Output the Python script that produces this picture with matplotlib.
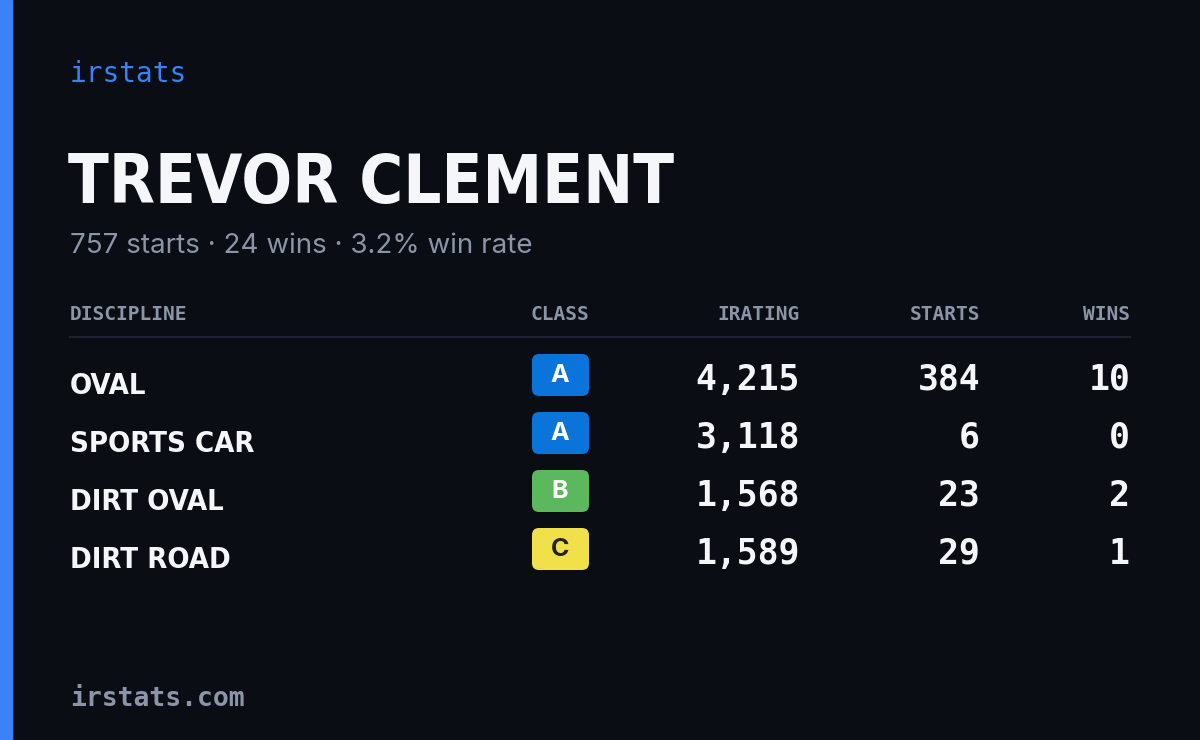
import matplotlib
matplotlib.use("Agg")
import matplotlib.pyplot as plt
from matplotlib.patches import FancyBboxPatch, Rectangle

driver = "TREVOR CLEMENT"
total_starts = 757
total_wins = 24
win_rate = 3.2
disciplines = ["OVAL", "SPORTS CAR", "DIRT OVAL", "DIRT ROAD"]
classes = ["A", "A", "B", "C"]
iratings = [4215, 3118, 1568, 1589]
starts = [384, 6, 23, 29]
wins = [10, 0, 2, 1]
headers = ["DISCIPLINE", "CLASS", "IRATING", "STARTS", "WINS"]
class_colors = {"A": "#0b74da", "B": "#5cb85c", "C": "#f0e04a"}
class_text = {"A": "white", "B": "white", "C": "#222222"}

W, H = 1200, 740
fig = plt.figure(figsize=(12, 7.4), dpi=100)
fig.patch.set_facecolor("#0a0d14")
ax = fig.add_axes([0, 0, 1, 1])
ax.set_xlim(0, W); ax.set_ylim(H, 0); ax.axis("off")

ax.add_patch(Rectangle((0, 0), 12, H, color="#3b82f6"))
mono = "DejaVu Sans Mono"

ax.text(70, 74, "irstats", color="#3b82f6", fontsize=20, family=mono, va="center")
ax.text(68, 184, driver, color="#f5f6fa", fontsize=48, family="DejaVu Sans",
        stretch="condensed", weight="bold", va="center")
ax.text(70, 246, f"{total_starts} starts · {total_wins} wins · {win_rate:.1f}% win rate",
        color="#8b95a7", fontsize=20, family="Inter", va="center")

hx = [(70, "left"), (560, "center"), (800, "right"), (980, "right"), (1130, "right")]
for (x, ha), h in zip(hx, headers):
    ax.text(x, 315, h, color="#8b95a7", fontsize=14, family=mono, weight="bold", ha=ha, va="center")
ax.plot([70, 1130], [337, 337], color="#1c2230", lw=1.5)

for i, (d, c, ir, s, w) in enumerate(zip(disciplines, classes, iratings, starts, wins)):
    y = 378 + 58 * i
    ax.text(70, y + 8, d, color="#f5f6fa", fontsize=21, family="DejaVu Sans",
            stretch="condensed", weight="bold", va="center")
    ax.add_patch(FancyBboxPatch((532, y - 24), 57, 42, boxstyle="round,pad=0,rounding_size=7",
                                fc=class_colors[c], ec="none"))
    ax.text(560, y - 2, c, color=class_text[c], fontsize=18, family="Inter", weight="bold",
            ha="center", va="center")
    for x, v in [(800, f"{ir:,}"), (980, str(s)), (1130, str(w))]:
        ax.text(x, y + 2, v, color="#f5f6fa", fontsize=25, family=mono, weight="bold",
                ha="right", va="center")

ax.text(70, 699, "irstats.com", color="#8b95a7", fontsize=19, family=mono, weight="bold", va="center")
fig.savefig("out.png", dpi=100, facecolor=fig.get_facecolor())
